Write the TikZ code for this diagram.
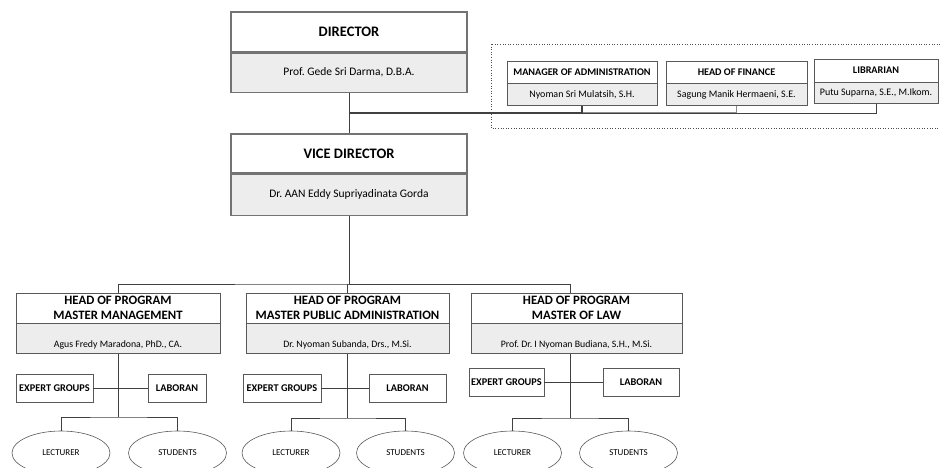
\documentclass[tikz,border=0pt]{standalone}
\usepackage{fontspec}
\setmainfont{Carlito}
\usetikzlibrary{positioning,shapes.geometric}
\colorlet{boxline}{black!65}
\colorlet{namefill}{black!7}
\frenchspacing
\begin{document}
\begin{tikzpicture}[x=1pt,y=-1pt,
    every node/.style={inner sep=1pt, align=center},
    link/.style={draw=black!75, line width=0.6pt},
    topbox/.style={draw=black!55, line width=1.2pt, fill=white, minimum width=236pt,
        font=\bfseries\fontsize{14.5}{16}\selectfont},
    topname/.style={topbox, fill=namefill, font=\fontsize{11.5}{13}\selectfont},
    staffbox/.style={draw=boxline, line width=0.7pt, fill=white,
        font=\bfseries\fontsize{10.2}{12}\selectfont},
    staffname/.style={staffbox, fill=namefill, font=\fontsize{10}{12}\selectfont},
    progbox/.style={draw=boxline, line width=0.7pt, fill=white, minimum height=30pt,
        font=\bfseries\fontsize{12.8}{14.5}\selectfont},
    progname/.style={progbox, fill=namefill, font=\fontsize{9.8}{11}\selectfont,
        text height=21pt, text depth=3pt, inner ysep=2pt},
    unitbox/.style={draw=boxline, line width=0.7pt, fill=white, minimum height=28pt,
        font=\bfseries\fontsize{10.3}{12}\selectfont},
    member/.style={ellipse, draw=boxline, line width=0.6pt, fill=white, inner sep=0pt,
        minimum width=98pt, minimum height=44pt, font=\fontsize{9}{11}\selectfont}
]
    \useasboundingbox (0,0) rectangle (940,468);
    \clip (0,0) rectangle (940,468);
    \draw [black!70, dotted, line width=0.6pt] (491,44) rectangle (950,128);
    % top
    \node [topbox, minimum height=40pt] (dirtitle) at (349,32) {DIRECTOR};
    \node [topname, minimum height=39pt, below=0pt of dirtitle] (dirname) {Prof. Gede Sri Darma, D.B.A.};
    \node [topbox, minimum height=39pt] (vicetitle) at (349,153.5) {VICE DIRECTOR};
    \node [topname, minimum height=41pt, below=0pt of vicetitle] (vicename) {Dr. AAN Eddy Supriyadinata Gorda};
    % staff
    \node [staffbox, minimum width=150pt, minimum height=22pt] (mgrtitle) at (582,72) {MANAGER OF ADMINISTRATION};
    \node [staffname, minimum width=150pt, minimum height=22pt, below=0pt of mgrtitle] (mgrname) {Nyoman Sri Mulatsih, S.H.};
    \node [staffbox, minimum width=141pt, minimum height=22pt] (fintitle) at (736.5,72) {HEAD OF FINANCE};
    \node [staffname, minimum width=141pt, minimum height=22pt, below=0pt of fintitle] (finname) {Sagung Manik Hermaeni, S.E.};
    \node [staffbox, minimum width=124pt, minimum height=23pt] (libtitle) at (876,70.5) {LIBRARIAN};
    \node [staffname, minimum width=124pt, minimum height=21pt, below=0pt of libtitle] (libname) {Putu Suparna, S.E., M.Ikom.};
    % programs
    \node [progbox, minimum width=204pt] (mgmttitle) at (118,308) {HEAD OF PROGRAM\\MASTER MANAGEMENT};
    \node [progname, minimum width=204pt, below=0pt of mgmttitle] (mgmtname) {Agus Fredy Maradona, PhD., CA.};
    \node [progbox, minimum width=203pt] (pubtitle) at (347.5,308) {HEAD OF PROGRAM\\MASTER PUBLIC ADMINISTRATION};
    \node [progname, minimum width=203pt, below=0pt of pubtitle] (pubname) {Dr. Nyoman Subanda, Drs., M.Si.};
    \node [progbox, minimum width=211pt] (lawtitle) at (576.5,308) {HEAD OF PROGRAM\\MASTER OF LAW};
    \node [progname, minimum width=211pt, below=0pt of lawtitle] (lawname) {Prof. Dr. I Nyoman Budiana, S.H., M.Si.};
    % units
    \node [unitbox, minimum width=77pt] (mgmtexpert) at (54.5,388) {EXPERT GROUPS};
    \node [unitbox, minimum width=58pt] (mgmtlab) at (177,388) {LABORAN};
    \node [unitbox, minimum width=78pt] (pubexpert) at (282,388) {EXPERT GROUPS};
    \node [unitbox, minimum width=77pt] (publab) at (407.5,388) {LABORAN};
    \node [unitbox, minimum width=75pt] (lawexpert) at (506.5,382) {EXPERT GROUPS};
    \node [unitbox, minimum width=76pt] (lawlab) at (641,382) {LABORAN};
    % members
    \node [member] (mgmtlect) at (61,453) {LECTURER};
    \node [member] (mgmtstud) at (177.5,453) {STUDENTS};
    \node [member] (publect) at (291,453) {LECTURER};
    \node [member] (pubstud) at (405.5,453) {STUDENTS};
    \node [member] (lawlect) at (512.5,453) {LECTURER};
    \node [member] (lawstud) at (628.5,453) {STUDENTS};
    % lines
    \coordinate (staffbus) at (349,113);
    \coordinate (progbus) at (349,284);
    \coordinate (mgmtfork) at (118,417);
    \coordinate (pubfork) at (347.5,418);
    \coordinate (lawfork) at (570,418);
    \draw [link] (dirname) -- (vicetitle);
    \draw [link] (staffbus) -| (libname);
    \draw [link, draw=black!45, line width=1pt] (staffbus) -| (finname);
    \draw [link, line width=1.4pt] (staffbus) -| (mgrname);
    \draw [link] (vicename) -- (progbus);
    \draw [link] (mgmttitle) |- (progbus) -| (pubtitle);
    \draw [link] (progbus) -| ([xshift=-6.5pt]lawtitle.north);
    \draw [link] (mgmtname) -- (mgmtfork);
    \draw [link] (pubname) -- (pubfork);
    \draw [link] ([xshift=-6.5pt]lawname.south) -- (lawfork);
    \draw [link] (mgmtexpert) -- (mgmtlab);
    \draw [link] (pubexpert) -- (publab);
    \draw [link] (lawexpert) -- (lawlab);
    \draw [link] (mgmtlect) |- (mgmtfork) -| (mgmtstud);
    \draw [link] (publect) |- (pubfork) -| (pubstud);
    \draw [link] (lawlect) |- (lawfork) -| (lawstud);
\end{tikzpicture}
\end{document}
